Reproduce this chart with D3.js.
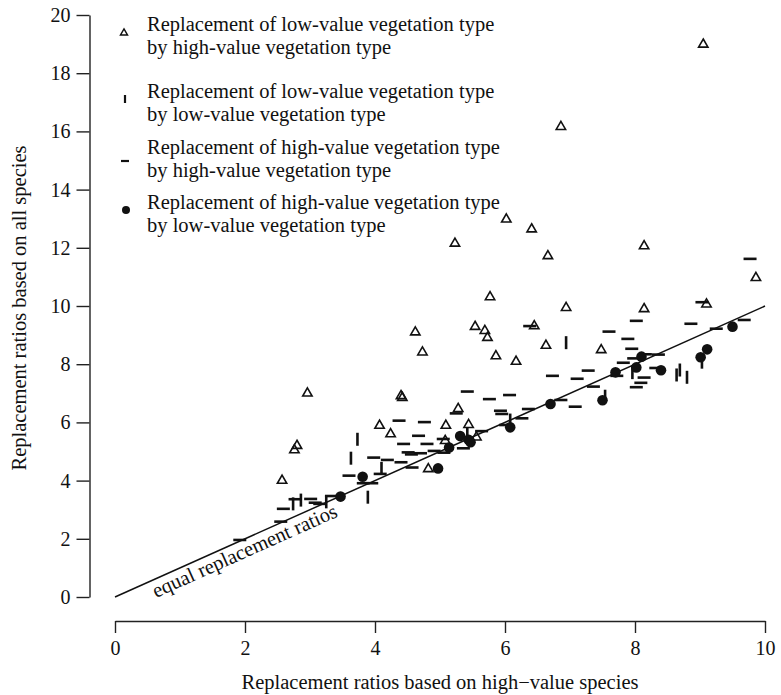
<!DOCTYPE html>
<html><head><meta charset="utf-8">
<script src="https://cdn.jsdelivr.net/npm/d3@7"></script>
<style>body{margin:0;background:#fff}svg{display:block}text{font-family:"Liberation Serif","Times New Roman",serif;fill:#111}</style>
</head><body>
<svg id="c" width="781" height="695"></svg>
<script>
const xTicks = [0,2,4,6,8,10];
const yTicks = [0,2,4,6,8,10,12,14,16,18,20];
const legendLabels = [
  ["Replacement of low-value vegetation type","by high-value vegetation type"],
  ["Replacement of low-value vegetation type","by low-value vegetation type"],
  ["Replacement of high-value vegetation type","by high-value vegetation type"],
  ["Replacement of high-value vegetation type","by low-value vegetation type"]
];
const xTitle = "Replacement ratios based on high\u2212value species";
const yTitle = "Replacement ratios based on all species";
const lineLabel = "equal replacement ratios";
// low -> high (triangles)
const lowHigh = [[9.05,18.99],[6.86,16.16],[6.02,12.98],[6.41,12.64],[5.23,12.15],[8.14,12.06],[6.66,11.72],
 [9.86,10.97],[6.94,9.94],[8.14,9.90],[9.10,10.06],[5.77,10.31],[5.54,9.29],[5.69,9.15],[5.73,8.91],[6.45,9.31],
 [4.62,9.10],[4.73,8.41],[5.86,8.28],[6.17,8.09],[6.63,8.64],[7.48,8.49],[2.96,7.00],[4.40,6.91],[4.42,6.85],
 [5.28,6.47],[5.09,5.89],[5.44,5.92],[5.56,5.49],[5.08,5.37],[4.07,5.89],[4.24,5.60],[4.82,4.40],[2.80,5.20],
 [2.76,5.05],[2.57,4.00]];
// low -> low (vertical ticks)
const lowLow = [[6.94,8.74],[7.96,7.71],[8.69,7.80],[8.64,7.63],[8.80,7.55],[7.54,6.90],[9.03,8.07],[6.08,6.08],
 [5.42,5.60],[4.10,4.42],[3.73,5.42],[3.63,4.77],[3.89,3.43],[2.86,3.33],[2.74,3.20],[3.25,3.27]];
// high -> high (horizontal dashes)
const highHigh = [[9.77,11.62],[9.03,10.13],[6.38,9.31],[8.02,9.49],[7.60,9.12],[7.89,8.87],[7.95,8.53],[8.86,9.39],
 [9.25,9.22],[9.68,9.52],[7.82,8.05],[7.98,8.20],[8.16,8.34],[8.36,8.33],[7.28,7.78],[7.11,7.50],[7.36,7.23],
 [6.73,7.60],[7.72,7.60],[8.14,7.54],[8.09,7.36],[8.02,7.21],[6.86,6.77],[7.08,6.54],[8.32,7.87],[5.42,7.06],
 [5.76,6.80],[6.07,6.94],[5.25,6.31],[5.93,6.40],[5.95,6.29],[6.36,6.46],[6.26,6.14],[4.37,6.06],[4.76,6.01],
 [4.67,5.54],[4.44,5.26],[4.80,5.26],[5.05,5.43],[4.51,4.97],[4.56,4.90],[4.70,4.94],[4.91,5.02],[5.36,5.11],
 [5.64,5.70],[6.01,5.91],[5.06,4.96],[4.19,4.71],[4.40,4.63],[4.57,4.45],[3.98,4.79],[4.08,4.23],[3.60,4.17],
 [3.82,3.91],[3.95,3.91],[3.33,3.47],[3.01,3.37],[2.77,3.36],[3.08,3.24],[3.15,3.20],[2.59,3.03],[2.55,2.59],[1.92,1.96]];
// high -> low (filled dots)
const highLow = [[3.47,3.45],[3.81,4.13],[4.97,4.42],[5.14,5.14],[5.31,5.53],[5.44,5.40],[5.47,5.32],[6.08,5.83],
 [6.70,6.63],[7.50,6.76],[7.70,7.72],[8.02,7.89],[8.10,8.26],[8.40,7.79],[9.01,8.24],[9.11,8.51],[9.50,9.29]];

const svg = d3.select("#c");
const x = d3.scaleLinear().domain([0,10]).range([115,765]);
const y = d3.scaleLinear().domain([0,20]).range([597,15]);
const FS = 20.5;

// axes
const xa = svg.append("g").attr("transform","translate(0,621)")
  .call(d3.axisBottom(x).tickValues(xTicks).tickSize(12).tickPadding(8).tickSizeOuter(0));
const ya = svg.append("g").attr("transform","translate(89.5,0)")
  .call(d3.axisLeft(y).tickValues(yTicks).tickSize(13).tickPadding(6).tickSizeOuter(0));
[xa,ya].forEach(a=>{
  a.select(".domain").attr("stroke","#222").attr("stroke-width",1.4);
  a.selectAll(".tick line").attr("stroke","#222").attr("stroke-width",1.4);
  a.selectAll(".tick text").attr("font-size",20).attr("font-family","Liberation Serif").attr("fill","#111");
});

// titles
svg.append("text").attr("x",440).attr("y",689).attr("text-anchor","middle").attr("font-size",FS).text(xTitle);
svg.append("text").attr("transform","translate(26,308) rotate(-90)").attr("text-anchor","middle").attr("font-size",FS).text(yTitle);

// equal line
svg.append("line").attr("x1",x(0)).attr("y1",y(0)).attr("x2",x(10)).attr("y2",y(10))
  .attr("stroke","#111").attr("stroke-width",1.5);
const ang = Math.atan2(y(0)-y(10), x(10)-x(0))*180/Math.PI;
svg.append("text").attr("transform",`translate(${x(0.63)},${y(0)+1}) rotate(${-ang})`)
  .attr("font-size",FS).text(lineLabel);

// marks
const tri = d3.symbol().type(d3.symbolTriangle).size(38);
svg.append("g").selectAll("path").data(lowHigh).join("path")
  .attr("d",tri).attr("transform",d=>`translate(${x(d[0])},${y(d[1])})`)
  .attr("fill","none").attr("stroke","#111").attr("stroke-width",1.6);
svg.append("g").selectAll("line").data(lowLow).join("line")
  .attr("x1",d=>x(d[0])).attr("x2",d=>x(d[0])).attr("y1",d=>y(d[1])-6.5).attr("y2",d=>y(d[1])+6.5)
  .attr("stroke","#111").attr("stroke-width",2.6);
svg.append("g").selectAll("line").data(highHigh).join("line")
  .attr("x1",d=>x(d[0])-6.5).attr("x2",d=>x(d[0])+6.5).attr("y1",d=>y(d[1])).attr("y2",d=>y(d[1]))
  .attr("stroke","#111").attr("stroke-width",2.6);
svg.append("g").selectAll("circle").data(highLow).join("circle")
  .attr("cx",d=>x(d[0])).attr("cy",d=>y(d[1])).attr("r",5.3).attr("fill","#111");

// legend
const lg = svg.append("g");
const base = [31,98,154,209];
legendLabels.forEach((lines,i)=>{
  lines.forEach((t,j)=>{
    lg.append("text").attr("x",147).attr("y",base[i]+j*23).attr("font-size",FS).text(t);
  });
});
const cy = [33,99,161,210];
lg.append("path").attr("d",d3.symbol().type(d3.symbolTriangle).size(22)).attr("transform",`translate(124,${cy[0]})`)
  .attr("fill","none").attr("stroke","#111").attr("stroke-width",1.4);
lg.append("line").attr("x1",125).attr("x2",125).attr("y1",cy[1]-4).attr("y2",cy[1]+4).attr("stroke","#111").attr("stroke-width",2.2);
lg.append("line").attr("x1",121).attr("x2",129).attr("y1",cy[2]).attr("y2",cy[2]).attr("stroke","#111").attr("stroke-width",2.2);
lg.append("circle").attr("cx",126).attr("cy",cy[3]).attr("r",4).attr("fill","#111");
</script>
</body></html>
